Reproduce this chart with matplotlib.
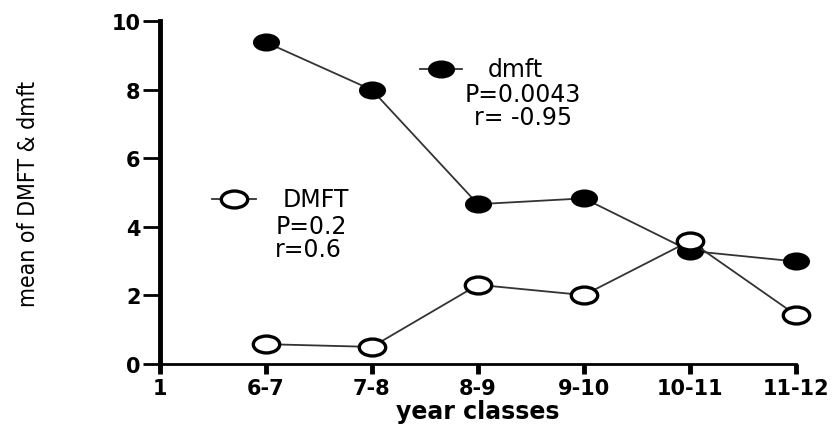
import matplotlib
matplotlib.use('Agg')
import matplotlib.pyplot as plt
from matplotlib.path import Path
from matplotlib.transforms import Affine2D
from matplotlib.lines import Line2D

# data
classes = ['1', '6-7', '7-8', '8-9', '9-10', '10-11', '11-12']
groups = ['6-7', '7-8', '8-9', '9-10', '10-11', '11-12']
dmft = [9.38, 7.99, 4.66, 4.83, 3.30, 2.99]
DMFT = [0.58, 0.50, 2.31, 2.01, 3.59, 1.43]

plt.rcParams['font.family'] = ['DejaVu Sans']

# slightly flattened circle, like the stretched original
oval = Path.unit_circle().transformed(Affine2D().scale(1.0, 0.64))

fig = plt.figure(figsize=(8.37, 4.31), dpi=100)
ax = fig.add_axes([0.191, 0.153, 0.76, 0.796])

xpos = [classes.index(g) for g in groups]
ax.plot(xpos, dmft, color='#333333', lw=1.3, marker=oval, ms=18,
        mfc='black', mec='black', mew=1.5, zorder=3, clip_on=False)
ax.plot(xpos, DMFT, color='#333333', lw=1.3, marker=oval, ms=19,
        mfc='white', mec='black', mew=2.4, zorder=4, clip_on=False)

ax.set_xlim(0, 6)
ax.set_ylim(0, 10)
ax.set_xticks(range(len(classes)))
ax.set_xticklabels(classes, fontweight='bold', fontsize=15)
ax.set_yticks([0, 2, 4, 6, 8, 10])
ax.set_yticklabels(['0', '2', '4', '6', '8', '10'], fontweight='bold', fontsize=15)
ax.tick_params(axis='x', length=7, width=3.5, pad=3)
ax.tick_params(axis='y', length=12, width=2, pad=2)
for s in ['top', 'right']:
    ax.spines[s].set_visible(False)
ax.spines['left'].set_linewidth(3.5)
ax.spines['bottom'].set_linewidth(2)

ax.set_xlabel('year classes', fontweight='bold', fontsize=17)
ax.xaxis.set_label_coords(0.5, -0.137)
ax.xaxis.label.set_verticalalignment('center')
ax.set_ylabel('mean of DMFT & dmft', fontsize=16.5, fontstretch='condensed',
              family=['DejaVu Sans Condensed', 'Liberation Sans Narrow', 'DejaVu Sans'])
ax.yaxis.set_label_coords(-0.206, 0.5)
ax.yaxis.label.set_verticalalignment('center')

# legend keys drawn in figure coordinates
def key(x0, x1, y, filled):
    ln = Line2D([x0, (x0 + x1) / 2, x1], [y, y, y], transform=fig.transFigure,
                color='#333333', lw=1.3, marker=oval, markevery=[1],
                ms=18 if filled else 19, mfc='black' if filled else 'white',
                mec='black', mew=1.5 if filled else 2.4)
    fig.add_artist(ln)

key(0.502, 0.552, 0.838, True)
key(0.253, 0.306, 0.536, False)

fig.text(0.583, 0.838, 'dmft', fontsize=17, ha='left', va='center')
fig.text(0.625, 0.780, 'P=0.0043', fontsize=17, ha='center', va='center')
fig.text(0.625, 0.726, 'r= -0.95', fontsize=17, ha='center', va='center')
fig.text(0.338, 0.536, 'DMFT', fontsize=17, ha='left', va='center')
fig.text(0.329, 0.473, 'P=0.2', fontsize=17, ha='left', va='center')
fig.text(0.329, 0.420, 'r=0.6', fontsize=17, ha='left', va='center')

fig.savefig('out.png', dpi=100)
